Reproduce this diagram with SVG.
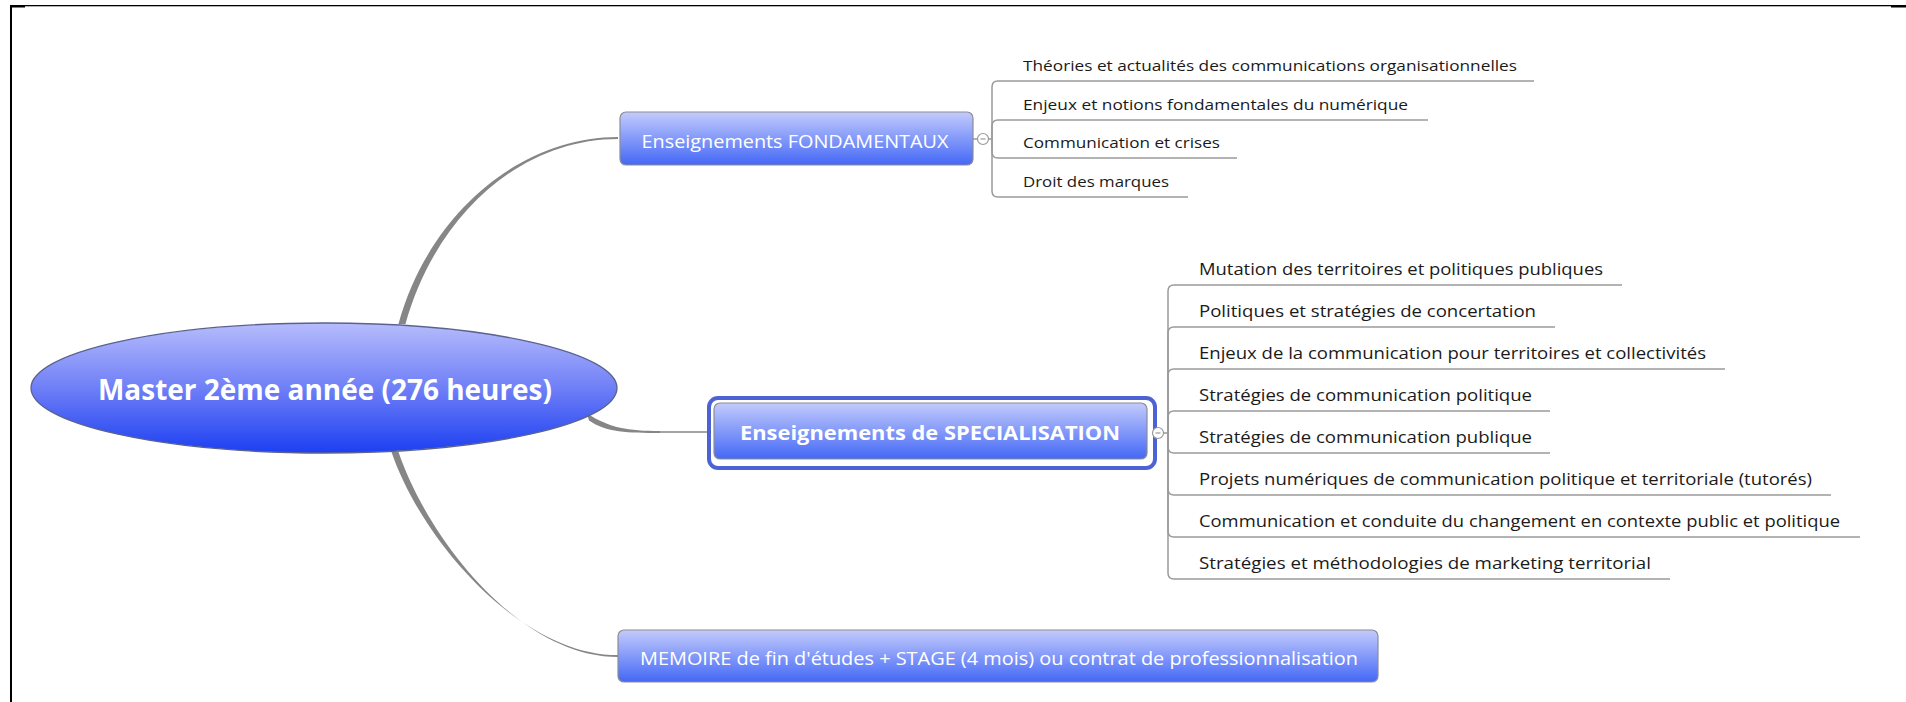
<svg xmlns="http://www.w3.org/2000/svg" width="1906" height="702" viewBox="0 0 1906 702">
<defs>
<linearGradient id="gRoot" x1="0" y1="0" x2="0" y2="1">
<stop offset="0" stop-color="#b6bcfc"/>
<stop offset="0.5" stop-color="#6f7ff7"/>
<stop offset="1" stop-color="#1c3ff2"/>
</linearGradient>
<linearGradient id="gBox" x1="0" y1="0" x2="0" y2="1">
<stop offset="0" stop-color="#c3cbfc"/>
<stop offset="1" stop-color="#4468f6"/>
</linearGradient>
<style>
.box{fill:url(#gBox);stroke:#8c8c96;stroke-width:1.2}
.btxt{font-family:"Open Sans","Liberation Sans",sans-serif;fill:#ffffff;text-anchor:middle}
.ctxt{font-family:"Open Sans","Liberation Sans",sans-serif;fill:#1a1a1a}
.branch{fill:#868686}
.thin{fill:none;stroke:#868686;stroke-width:1.5}
.sub{fill:none;stroke:#9a9a9a;stroke-width:1.5}
.col{fill:#ffffff;stroke:#9a9a9a;stroke-width:1.2}
.frame{fill:#000000}
</style>
</defs>
<rect x="0" y="0" width="1906" height="702" fill="#ffffff"/>
<g id="frame">
<rect class="frame" x="10" y="5" width="1881" height="1.3"/>
<rect class="frame" x="10" y="5" width="15" height="2.5"/>
<rect class="frame" x="1891" y="5" width="15" height="2.5"/>
<rect class="frame" x="10" y="5" width="2" height="697"/>
</g>
<g id="connectors">
<path class="branch" d="M398.5,324 C428.5,214 520,137.1 618,137.1 L618,138.9 C520,138.9 435.5,216 405.5,324 Z"/>
<path class="branch" d="M587,413.5 C610,428 628,431 660,431 L660,433 C628,433 606,432.5 589,420.5 Z"/>
<path class="thin" d="M660,432 L709,432"/>
<path class="branch" d="M391.5,452 C421.5,540 520,655.1 618,655.1 L618,656.9 C520,656.9 428.5,540 398.5,452 Z"/>
<path class="sub" d="M973,139 H978"/>
<path class="sub" d="M988.5,139 H992"/>
<path class="sub" d="M992,139 V87 Q992,81 998,81 H1534"/>
<path class="sub" d="M992,139 V126 Q992,120 998,120 H1428"/>
<path class="sub" d="M992,139 V152 Q992,158 998,158 H1237"/>
<path class="sub" d="M992,139 V191 Q992,197 998,197 H1188"/>
<path class="sub" d="M1163.5,433 H1168"/>
<path class="sub" d="M1168,433 V291 Q1168,285 1174,285 H1622"/>
<path class="sub" d="M1168,433 V333 Q1168,327 1174,327 H1555"/>
<path class="sub" d="M1168,433 V375 Q1168,369 1174,369 H1725"/>
<path class="sub" d="M1168,433 V417 Q1168,411 1174,411 H1550"/>
<path class="sub" d="M1168,433 V447 Q1168,453 1174,453 H1550"/>
<path class="sub" d="M1168,433 V489 Q1168,495 1174,495 H1831"/>
<path class="sub" d="M1168,433 V531 Q1168,537 1174,537 H1860"/>
<path class="sub" d="M1168,433 V573 Q1168,579 1174,579 H1670"/>
</g>
<g id="root">
<ellipse cx="324" cy="388" rx="293" ry="65" fill="url(#gRoot)" stroke="#5a6290" stroke-width="1.3"/>
<text class="btxt" x="325" y="400" font-size="28" font-weight="bold" textLength="454" lengthAdjust="spacingAndGlyphs">Master 2ème année (276 heures)</text>
</g>
<g id="fondamentaux">
<rect class="box" x="620" y="112" width="353" height="53" rx="6"/>
<text class="btxt" x="795" y="148" font-size="19" textLength="307" lengthAdjust="spacingAndGlyphs">Enseignements FONDAMENTAUX</text>
<circle class="col" cx="983" cy="139" r="5.5"/>
<path d="M980.5,139 H985.5" stroke="#9a9a9a" stroke-width="1.2"/>
</g>
<g id="fond-c1"><text class="ctxt" x="1023" y="71" font-size="15" textLength="494" lengthAdjust="spacingAndGlyphs">Théories et actualités des communications organisationnelles</text></g>
<g id="fond-c2"><text class="ctxt" x="1023" y="110" font-size="15" textLength="385" lengthAdjust="spacingAndGlyphs">Enjeux et notions fondamentales du numérique</text></g>
<g id="fond-c3"><text class="ctxt" x="1023" y="148" font-size="15" textLength="197" lengthAdjust="spacingAndGlyphs">Communication et crises</text></g>
<g id="fond-c4"><text class="ctxt" x="1023" y="187" font-size="15" textLength="146" lengthAdjust="spacingAndGlyphs">Droit des marques</text></g>
<g id="specialisation">
<rect x="709" y="398" width="446" height="70" rx="9" fill="none" stroke="#4d62d4" stroke-width="4"/>
<rect class="box" x="714" y="403" width="433" height="56" rx="6"/>
<text class="btxt" x="930" y="440" font-size="20" font-weight="bold" textLength="380" lengthAdjust="spacingAndGlyphs">Enseignements de SPECIALISATION</text>
<circle class="col" cx="1158" cy="433" r="5.5"/>
<path d="M1155.5,433 H1160.5" stroke="#9a9a9a" stroke-width="1.2"/>
</g>
<g id="spec-c1"><text class="ctxt" x="1199" y="275" font-size="16" textLength="404" lengthAdjust="spacingAndGlyphs">Mutation des territoires et politiques publiques</text></g>
<g id="spec-c2"><text class="ctxt" x="1199" y="317" font-size="16" textLength="337" lengthAdjust="spacingAndGlyphs">Politiques et stratégies de concertation</text></g>
<g id="spec-c3"><text class="ctxt" x="1199" y="359" font-size="16" textLength="507" lengthAdjust="spacingAndGlyphs">Enjeux de la communication pour territoires et collectivités</text></g>
<g id="spec-c4"><text class="ctxt" x="1199" y="401" font-size="16" textLength="333" lengthAdjust="spacingAndGlyphs">Stratégies de communication politique</text></g>
<g id="spec-c5"><text class="ctxt" x="1199" y="443" font-size="16" textLength="333" lengthAdjust="spacingAndGlyphs">Stratégies de communication publique</text></g>
<g id="spec-c6"><text class="ctxt" x="1199" y="485" font-size="16" textLength="613" lengthAdjust="spacingAndGlyphs">Projets numériques de communication politique et territoriale (tutorés)</text></g>
<g id="spec-c7"><text class="ctxt" x="1199" y="527" font-size="16" textLength="641" lengthAdjust="spacingAndGlyphs">Communication et conduite du changement en contexte public et politique</text></g>
<g id="spec-c8"><text class="ctxt" x="1199" y="569" font-size="16" textLength="452" lengthAdjust="spacingAndGlyphs">Stratégies et méthodologies de marketing territorial</text></g>
<g id="memoire">
<rect class="box" x="618" y="630" width="760" height="52" rx="6"/>
<text class="btxt" x="999" y="665" font-size="18" textLength="718" lengthAdjust="spacingAndGlyphs">MEMOIRE de fin d'études + STAGE (4 mois) ou contrat de professionnalisation</text>
</g>
</svg>
